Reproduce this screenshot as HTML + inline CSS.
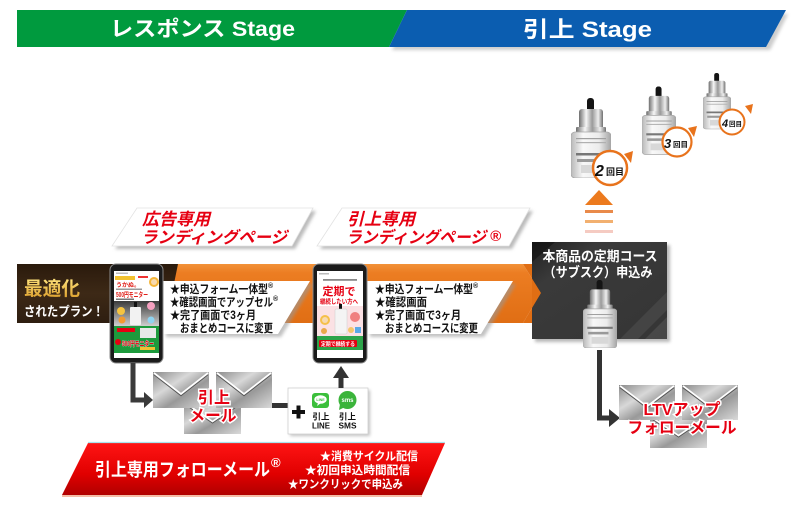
<!DOCTYPE html>
<html><head><meta charset="utf-8">
<style>
html,body{margin:0;padding:0;background:#fff;}
svg{display:block;}
text{font-family:"Liberation Sans","Noto Sans CJK JP",sans-serif;font-weight:bold;}
</style></head><body>
<svg width="800" height="507" viewBox="0 0 800 507" xmlns="http://www.w3.org/2000/svg">
<defs>
 <linearGradient id="silver" x1="0" x2="1" y1="0" y2="0">
  <stop offset="0" stop-color="#6e6e6e"/><stop offset="0.3" stop-color="#f6f6f6"/><stop offset="0.55" stop-color="#9a9a9a"/><stop offset="0.8" stop-color="#eeeeee"/><stop offset="1" stop-color="#707070"/>
 </linearGradient>
 <linearGradient id="glass" x1="0" x2="1">
  <stop offset="0" stop-color="#b8b8b8"/><stop offset="0.3" stop-color="#f8f8f8"/><stop offset="0.7" stop-color="#ececec"/><stop offset="1" stop-color="#a4a4a4"/>
 </linearGradient>
 <linearGradient id="metal" x1="0" y1="0" x2="1" y2="1">
  <stop offset="0" stop-color="#8a8a8a"/><stop offset="0.35" stop-color="#d8d8d8"/><stop offset="0.6" stop-color="#999"/><stop offset="1" stop-color="#dadada"/>
 </linearGradient>
 <linearGradient id="org" x1="0" y1="0" x2="0" y2="1">
  <stop offset="0" stop-color="#f29238"/><stop offset="0.15" stop-color="#ec7d22"/><stop offset="1" stop-color="#e06e14"/>
 </linearGradient>
 <linearGradient id="red" x1="0" y1="0" x2="0" y2="1">
  <stop offset="0" stop-color="#ff1414"/><stop offset="0.6" stop-color="#e00000"/><stop offset="1" stop-color="#b00000"/>
 </linearGradient>
 <linearGradient id="gold" x1="0" y1="0" x2="0" y2="1">
  <stop offset="0" stop-color="#ffe47e"/><stop offset="1" stop-color="#d99a26"/>
 </linearGradient>
 <linearGradient id="darkbox" x1="0" y1="0" x2="1" y2="1">
  <stop offset="0" stop-color="#202020"/><stop offset="0.25" stop-color="#3a3a3a"/><stop offset="1" stop-color="#353535"/>
 </linearGradient>
 <linearGradient id="phgray" x1="0" y1="0" x2="0" y2="1">
  <stop offset="0" stop-color="#3a3a3a"/><stop offset="1" stop-color="#cfcfcf"/>
 </linearGradient>
 <linearGradient id="brown" x1="0" y1="0" x2="0" y2="1">
  <stop offset="0" stop-color="#2a1a0c"/><stop offset="0.5" stop-color="#3d2916"/><stop offset="1" stop-color="#2e1e10"/>
 </linearGradient>
 <filter id="blur" x="-10%" y="-10%" width="120%" height="120%"><feGaussianBlur stdDeviation="1.5"/></filter>
 <symbol id="env" viewBox="0 0 57 36" preserveAspectRatio="none">
  <rect x="0" y="0" width="57" height="36" fill="url(#metal)"/>
  <polyline points="1,2.5 28.5,23.5 56,2.5" fill="none" stroke="#555" stroke-width="1.4"/>
  <polyline points="1,1 28.5,22 56,1" fill="none" stroke="#fff" stroke-width="1.8"/>
 </symbol>
 <symbol id="bottle" viewBox="0 0 40 80">
  <rect x="16" y="0" width="7" height="15" rx="3" fill="#141414"/>
  <rect x="8" y="11" width="24" height="22" rx="3" fill="url(#silver)"/>
  <rect x="5" y="29" width="30" height="6" rx="1" fill="url(#silver)"/>
  <rect x="0" y="34" width="40" height="46" rx="4" fill="url(#glass)" stroke="#a8a8a8" stroke-width="0.8"/>
  <rect x="5" y="40" width="30" height="1.2" fill="#a0a0a0"/>
  <rect x="5" y="44" width="30" height="1.2" fill="#b0b0b0"/>
  <rect x="5" y="55" width="30" height="2.5" fill="#777"/>
  <rect x="6" y="61" width="24" height="3" fill="#999"/>
  <rect x="10" y="67" width="20" height="8" fill="#d8d8d8"/>
 </symbol>
</defs>

<!-- Header -->
<polygon points="392,50 770,50 788,14 410,14" fill="#aaa" filter="url(#blur)" opacity="0.6"/>
<polygon points="17,10 407,10 389,47 17,47" fill="#009a3e"/>
<polygon points="407,10 786,10 766,47 389,47" fill="#0b5db0"/>
<text x="110" y="36" font-size="21" fill="#fff" textLength="185" lengthAdjust="spacingAndGlyphs">レスポンス Stage</text>
<text x="523" y="37" font-size="22" fill="#fff" textLength="129" lengthAdjust="spacingAndGlyphs">引上 Stage</text>

<!-- Bottles top right -->
<use href="#bottle" x="703" y="72" width="28" height="58"/>
<circle cx="732" cy="122" r="12.5" fill="#fff" stroke="#e8731c" stroke-width="2"/>
<polygon points="745,106 753,104 751,114" fill="#e8731c"/>
<text x="722" y="127" font-size="11" font-style="italic" fill="#111">4</text>
<text x="729" y="126" font-size="6.5" fill="#111">回目</text>

<use href="#bottle" x="642" y="86" width="34" height="69"/>
<circle cx="677" cy="142" r="14.5" fill="#fff" stroke="#e8731c" stroke-width="2.2"/>
<polygon points="688,128 697,126 694,137" fill="#e8731c"/>
<text x="664" y="148" font-size="13" font-style="italic" fill="#111">3</text>
<text x="673" y="147" font-size="7.5" fill="#111">回目</text>

<use href="#bottle" x="571" y="98" width="40" height="80"/>
<circle cx="610" cy="168" r="17" fill="#fff" stroke="#e8731c" stroke-width="2.5"/>
<polygon points="624,154 633,151 631,163" fill="#e8731c"/>
<text x="595" y="176" font-size="16" font-style="italic" fill="#111">2</text>
<text x="606" y="175" font-size="9" fill="#111">回目</text>

<!-- up arrow + stripes -->
<polygon points="585,205 613,205 599,190" fill="#ec7a1e"/>
<rect x="585" y="210" width="28" height="3" fill="#e98a4a"/>
<rect x="585" y="220" width="28" height="3" fill="#f2b070"/>
<rect x="585" y="230" width="28" height="3" fill="#f5cbc2"/>

<!-- Orange band + brown -->
<polygon points="170,264 523,264 541,293 523,323 170,323" fill="url(#org)"/>
<polygon points="17,264 178,264 166,323 17,323" fill="url(#brown)"/>
<text x="24" y="295" font-size="19" fill="url(#gold)" textLength="56" lengthAdjust="spacingAndGlyphs">最適化</text>
<text x="24" y="316" font-size="13" fill="#fff" textLength="80" lengthAdjust="spacingAndGlyphs">されたプラン！</text>

<!-- dark box -->
<rect x="535" y="245" width="135" height="97" fill="#888" opacity="0.6" filter="url(#blur)"/>
<rect x="532" y="242" width="135" height="97" fill="url(#darkbox)"/>
<polygon points="620,339 667,292 667,310 638,339" fill="#fff" opacity="0.07"/>
<polygon points="645,339 667,317 667,339" fill="#fff" opacity="0.09"/>
<polygon points="532,242 555,242 532,262" fill="#000" opacity="0.35"/>
<polygon points="523,264 541,293 523,323 532,323 532,264" fill="#e06e14"/>
<text x="600" y="261" font-size="13.5" fill="#fff" text-anchor="middle" textLength="115" lengthAdjust="spacingAndGlyphs">本商品の定期コース</text>
<text x="598" y="277" font-size="13.5" fill="#fff" text-anchor="middle" textLength="109" lengthAdjust="spacingAndGlyphs">（サブスク）申込み</text>
<use href="#bottle" x="583" y="280" width="34" height="68"/>

<!-- connector box -> LTV -->
<path d="M599.5,350 L599.5,418 L611,418" fill="none" stroke="#333" stroke-width="5"/>
<polygon points="609,409 620,418 609,427" fill="#333"/>

<!-- LTV envelopes -->
<use href="#env" x="650" y="416" width="57" height="32"/>
<use href="#env" x="619" y="385" width="56" height="35"/>
<use href="#env" x="682" y="385" width="56" height="35"/>
<text x="682" y="415" font-size="16" fill="#e60012" stroke="#fff" stroke-width="3" paint-order="stroke" text-anchor="middle" textLength="77" lengthAdjust="spacingAndGlyphs">LTVアップ</text>
<text x="682" y="433" font-size="16" fill="#e60012" stroke="#fff" stroke-width="3" paint-order="stroke" text-anchor="middle" textLength="109" lengthAdjust="spacingAndGlyphs">フォローメール</text>

<!-- Labels -->
<polygon points="140,211 316,211 295,249 115,249" fill="#bbb" filter="url(#blur)"/>
<polygon points="137,208 313,208 292,246 112,246" fill="#fff" stroke="#e2e2e2" stroke-width="0.8"/>
<text x="142" y="225" font-size="17" font-style="italic" fill="#e60012" textLength="68" lengthAdjust="spacingAndGlyphs">広告専用</text>
<text x="141" y="243" font-size="16.5" font-style="italic" fill="#e60012" textLength="146" lengthAdjust="spacingAndGlyphs">ランディングページ</text>

<polygon points="345,211 533,211 512,249 320,249" fill="#bbb" filter="url(#blur)"/>
<polygon points="342,208 530,208 509,246 317,246" fill="#fff" stroke="#e2e2e2" stroke-width="0.8"/>
<text x="347" y="225" font-size="17" font-style="italic" fill="#e60012" textLength="68" lengthAdjust="spacingAndGlyphs">引上専用</text>
<text x="346" y="243" font-size="16.5" font-style="italic" fill="#e60012" textLength="140" lengthAdjust="spacingAndGlyphs">ランディングページ</text>
<text x="490" y="241" font-size="15" font-weight="normal" font-style="italic" fill="#e60012">®</text>

<!-- text boxes -->
<polygon points="166,284 313,284 281,337 166,337" fill="#999" opacity="0.6" filter="url(#blur)"/>
<polygon points="163,281 310,281 278,334 163,334" fill="#fff"/>
<text x="170" y="293" font-size="11.5" fill="#111" textLength="98" lengthAdjust="spacingAndGlyphs">★申込フォーム一体型</text>
<text x="268" y="288" font-size="7" fill="#111">®</text>
<text x="170" y="306" font-size="11.5" fill="#111" textLength="103" lengthAdjust="spacingAndGlyphs">★確認画面でアップセル</text>
<text x="273" y="301" font-size="7" fill="#111">®</text>
<text x="170" y="319" font-size="11.5" fill="#111" textLength="86" lengthAdjust="spacingAndGlyphs">★完了画面で3ヶ月</text>
<text x="180" y="332" font-size="11.5" fill="#111" textLength="93" lengthAdjust="spacingAndGlyphs">おまとめコースに変更</text>

<polygon points="370,284 516,284 484,337 370,337" fill="#999" opacity="0.6" filter="url(#blur)"/>
<polygon points="367,281 513,281 481,334 367,334" fill="#fff"/>
<text x="375" y="293" font-size="11.5" fill="#111" textLength="98" lengthAdjust="spacingAndGlyphs">★申込フォーム一体型</text>
<text x="473" y="288" font-size="7" fill="#111">®</text>
<text x="375" y="306" font-size="11.5" fill="#111" textLength="52" lengthAdjust="spacingAndGlyphs">★確認画面</text>
<text x="375" y="319" font-size="11.5" fill="#111" textLength="86" lengthAdjust="spacingAndGlyphs">★完了画面で3ヶ月</text>
<text x="385" y="332" font-size="11.5" fill="#111" textLength="93" lengthAdjust="spacingAndGlyphs">おまとめコースに変更</text>

<!-- Phone 1 -->
<rect x="110" y="264" width="53" height="99" rx="6" fill="#1b1b1b" stroke="#8a8a8a" stroke-width="1"/>
<rect x="114" y="271" width="45" height="87" fill="#fff"/>
<rect x="116" y="272.5" width="12" height="1.5" fill="#bbb"/>
<rect x="115" y="276" width="20" height="4" fill="#f2c230"/>
<rect x="138" y="276" width="10" height="2" fill="#e33"/>
<circle cx="154" cy="282" r="5" fill="#f4b63a"/>
<circle cx="154" cy="282" r="3" fill="#f7d9b0"/>
<text x="116" y="287" font-size="6" fill="#e0201a">うかぬ。</text>
<rect x="116" y="288.5" width="26" height="1.5" fill="#999"/>
<text x="116" y="297" font-size="7" fill="#e0201a" textLength="32" lengthAdjust="spacingAndGlyphs">500円モニター</text>
<rect x="116" y="298.5" width="18" height="1.5" fill="#777"/>
<rect x="114" y="301" width="45" height="25" fill="url(#phgray)"/>
<rect x="134" y="302" width="3" height="6" fill="#111"/>
<rect x="130" y="307" width="11" height="18" rx="1" fill="#f2f2f2"/>
<circle cx="121" cy="311" r="4" fill="#f6c440"/>
<circle cx="122" cy="320" r="3.5" fill="#f39a2f"/>
<circle cx="151" cy="306" r="4" fill="#f5a0c0"/>
<circle cx="151" cy="320" r="3.5" fill="#8fd3f0"/>
<rect x="114" y="326" width="45" height="27" fill="#1d9a3c"/>
<rect x="117" y="328" width="18" height="4" fill="#e60012"/>
<rect x="140" y="328" width="16" height="10" fill="#e8e8e8"/>
<circle cx="118" cy="342" r="3" fill="#e60012"/>
<text x="122" y="346" font-size="7" fill="#e60012" stroke="#fff" stroke-width="0.6" paint-order="stroke" textLength="32" lengthAdjust="spacingAndGlyphs">500円モニター</text>
<rect x="140" y="347" width="15" height="3" fill="#f2c230"/>

<!-- Phone 2 -->
<rect x="313" y="264" width="54" height="99" rx="6" fill="#1b1b1b" stroke="#8a8a8a" stroke-width="1"/>
<rect x="317" y="271" width="46" height="87" fill="#fff"/>
<rect x="319" y="273" width="10" height="1.5" fill="#bbb"/>
<rect x="323" y="279" width="34" height="1.8" fill="#888"/>
<text x="339" y="295" font-size="11" fill="#e60012" text-anchor="middle">定期で</text>
<text x="339" y="303.5" font-size="6.5" fill="#e60012" text-anchor="middle" textLength="38" lengthAdjust="spacingAndGlyphs">継続したい方へ</text>
<rect x="317" y="306" width="46" height="30" fill="#fbe1e4"/>
<circle cx="325" cy="320" r="5" fill="#f5c04a"/>
<circle cx="325" cy="320" r="3" fill="#f7d9b0"/>
<circle cx="355" cy="317" r="5" fill="#f08080"/>
<rect x="339" y="304" width="3" height="6" fill="#111"/>
<rect x="335" y="309" width="12" height="25" rx="1" fill="#f4f4f4" stroke="#ccc" stroke-width="0.5"/>
<circle cx="351" cy="330" r="3" fill="#f3c66b"/>
<rect x="355" y="327" width="6" height="6" fill="#5aa9e6"/>
<circle cx="324" cy="331" r="3" fill="#e9a84a"/>
<rect x="317" y="336" width="46" height="14" fill="#2da44a"/>
<rect x="319" y="340" width="38" height="7" rx="1" fill="#e60012"/>
<text x="338" y="346" font-size="5.5" fill="#fff" text-anchor="middle" textLength="34" lengthAdjust="spacingAndGlyphs">定期で継続する</text>

<!-- connector phone1 -> mail -->
<path d="M133,363 L133,400 L146,400" fill="none" stroke="#3a3a3a" stroke-width="5"/>
<polygon points="144,392 153,400 144,408" fill="#3a3a3a"/>

<!-- 引上メール envelopes -->
<use href="#env" x="184" y="402" width="57" height="32"/>
<use href="#env" x="153" y="372" width="56" height="36"/>
<use href="#env" x="216" y="372" width="56" height="36"/>
<text x="214" y="403" font-size="16" fill="#e60012" stroke="#fff" stroke-width="3" paint-order="stroke" text-anchor="middle" textLength="32" lengthAdjust="spacingAndGlyphs">引上</text>
<text x="213" y="421" font-size="16" fill="#e60012" stroke="#fff" stroke-width="3" paint-order="stroke" text-anchor="middle" textLength="47" lengthAdjust="spacingAndGlyphs">メール</text>

<!-- connector mail -> plus box -->
<rect x="272" y="403" width="17" height="5" fill="#333"/>

<!-- plus box -->
<rect x="290" y="390" width="80" height="46" fill="#999" opacity="0.6" filter="url(#blur)"/>
<rect x="288" y="388" width="80" height="46" fill="#fff" stroke="#d0d0d0" stroke-width="0.8"/>
<rect x="292" y="410" width="13" height="4" fill="#111"/>
<rect x="296.5" y="405.5" width="4" height="13" fill="#111"/>
<rect x="312" y="393" width="17" height="15" rx="3" fill="#3bbf3b"/>
<ellipse cx="320.5" cy="399.5" rx="6.2" ry="4.3" fill="#fff"/>
<polygon points="318,403 321,403 317,406" fill="#fff"/>
<text x="320.5" y="401" font-size="3.6" fill="#3bbf3b" text-anchor="middle">LINE</text>
<circle cx="347.5" cy="400" r="9" fill="#3bb43b"/>
<polygon points="340,404 345,407 339,410" fill="#3bb43b"/>
<text x="347.5" y="402" font-size="6" fill="#fff" text-anchor="middle">sms</text>
<text x="321" y="419.5" font-size="8.5" fill="#111" text-anchor="middle">引上</text>
<text x="321" y="428.5" font-size="8.5" fill="#111" text-anchor="middle" textLength="18" lengthAdjust="spacingAndGlyphs">LINE</text>
<text x="347.5" y="419.5" font-size="8.5" fill="#111" text-anchor="middle">引上</text>
<text x="347.5" y="428.5" font-size="8.5" fill="#111" text-anchor="middle" textLength="18" lengthAdjust="spacingAndGlyphs">SMS</text>

<!-- up arrow plus -> phone2 -->
<rect x="338.5" y="376" width="5" height="12" fill="#333"/>
<polygon points="333,378 349,378 341,366" fill="#333"/>

<!-- red banner -->
<rect x="62" y="494.5" width="360" height="2.5" fill="#f0a080" opacity="0.7"/>
<polygon points="88,443 445,443 422,495 62,495" fill="url(#red)"/>
<line x1="88" y1="442.5" x2="445" y2="442.5" stroke="#a8e4ee" stroke-width="1.2"/>
<text x="95" y="476" font-size="18" fill="#fff" textLength="175" lengthAdjust="spacingAndGlyphs">引上専用フォローメール</text>
<text x="271" y="467" font-size="13" font-weight="normal" fill="#fff">®</text>
<text x="320" y="460" font-size="11.5" fill="#fff" textLength="98" lengthAdjust="spacingAndGlyphs">★消費サイクル配信</text>
<text x="305" y="474" font-size="11.5" fill="#fff" textLength="105" lengthAdjust="spacingAndGlyphs">★初回申込時間配信</text>
<text x="288" y="488" font-size="11.5" fill="#fff" textLength="115" lengthAdjust="spacingAndGlyphs">★ワンクリックで申込み</text>
</svg>
</body></html>
